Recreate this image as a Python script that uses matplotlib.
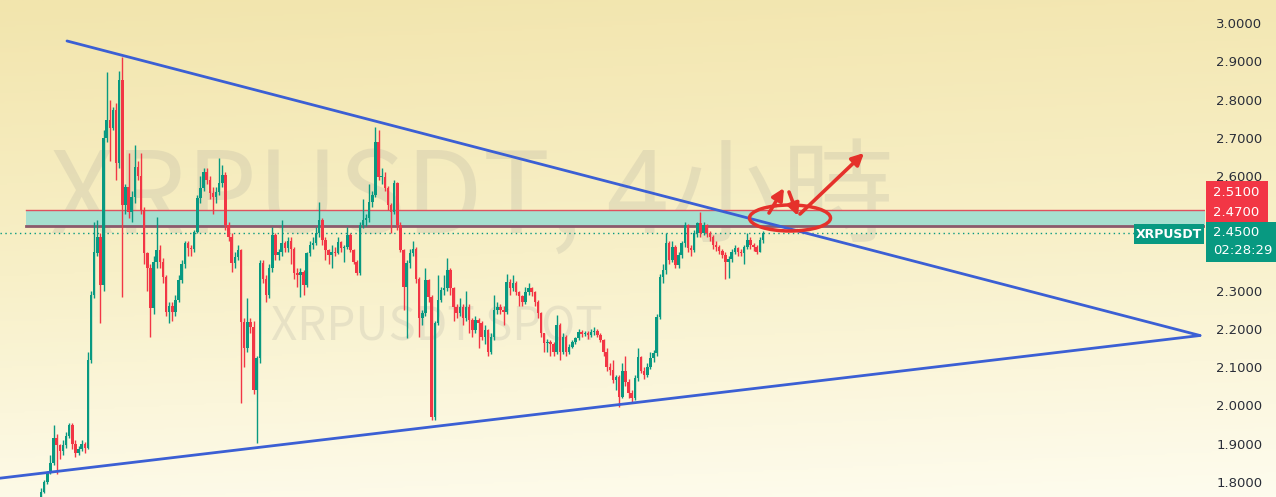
import numpy as np
import matplotlib
matplotlib.use("Agg")
import matplotlib.pyplot as plt
from matplotlib.patches import Ellipse, Rectangle
from matplotlib.colors import LinearSegmentedColormap

# ---------------- data (4h candles) ----------------
first_open = 1.76
closes = [
    1.775, 1.80, 1.825, 1.85, 1.915, 1.897, 1.88, 1.897, 1.92, 1.95,
    1.90, 1.875, 1.885, 1.90, 1.89, 2.12, 2.29, 2.40, 2.44, 2.315,
    2.70, 2.746, 2.725, 2.773, 2.633, 2.851, 2.524, 2.572, 2.507, 2.546,
    2.624, 2.60, 2.511, 2.398, 2.359, 2.254, 2.376, 2.407, 2.376, 2.337,
    2.245,
    2.26, 2.245, 2.276, 2.328, 2.37, 2.424, 2.411, 2.41, 2.454,
    2.542, 2.568, 2.611, 2.59, 2.555, 2.545, 2.559, 2.581, 2.603, 2.472,
    2.441, 2.372, 2.389, 2.407, 2.219, 2.150, 2.219, 2.206, 2.041, 2.123,
    2.372, 2.33, 2.289, 2.359, 2.446, 2.393, 2.402, 2.424, 2.411, 2.43,
    2.41, 2.346,
    2.341, 2.35, 2.315, 2.398, 2.420, 2.425, 2.450, 2.485, 2.433, 2.407,
    2.393, 2.402, 2.400, 2.428, 2.411, 2.415, 2.446, 2.407, 2.376,
    2.346, 2.472, 2.485, 2.490, 2.533, 2.550, 2.690, 2.598, 2.598, 2.568,
    2.524, 2.507, 2.581, 2.472, 2.407, 2.311, 2.372, 2.40, 2.41, 2.33,
    2.228, 2.241, 2.328, 2.284, 1.97, 2.215, 2.276, 2.302, 2.306, 2.354,
    2.306, 2.258, 2.241, 2.258, 2.228, 2.258, 2.224, 2.197, 2.224, 2.215,
    2.180, 2.197, 2.141, 2.180, 2.250, 2.258, 2.250, 2.245, 2.324, 2.306,
    2.320, 2.298, 2.285, 2.271, 2.298, 2.306, 2.298, 2.271, 2.241,
    2.189, 2.163, 2.167, 2.160, 2.141, 2.210, 2.141, 2.180, 2.141, 2.154,
    2.167, 2.176, 2.193, 2.188, 2.190, 2.184, 2.193, 2.195, 2.184, 2.171,
    2.141, 2.101,
    2.093, 2.067, 2.075, 2.023, 2.09, 2.062, 2.032, 2.019, 2.071, 2.128,
    2.090, 2.080, 2.100, 2.123, 2.136, 2.232, 2.337, 2.354, 2.424,
    2.38, 2.415, 2.367, 2.393, 2.424, 2.472, 2.411, 2.407, 2.450, 2.476,
    2.450, 2.472, 2.450, 2.441, 2.420, 2.415, 2.405, 2.393, 2.376, 2.384,
    2.402, 2.411, 2.402, 2.400, 2.415, 2.433, 2.420, 2.415, 2.402, 2.433,
    2.450,
]
highs = [
    1.785, 1.805, 1.83, 1.87, 1.95, 1.925, 1.90, 1.91, 1.93, 1.955,
    1.955, 1.91, 1.895, 1.91, 1.905, 2.14, 2.30, 2.48, 2.485, 2.45,
    2.72, 2.873, 2.80, 2.78, 2.79, 2.875, 2.912, 2.58, 2.66, 2.56,
    2.681, 2.64, 2.66, 2.52, 2.40, 2.37, 2.39, 2.494, 2.42, 2.385,
    2.34,
    2.27, 2.27, 2.29, 2.34, 2.38, 2.43, 2.43, 2.42, 2.46,
    2.55, 2.60, 2.62, 2.62, 2.60, 2.57, 2.57, 2.646, 2.63, 2.61,
    2.48, 2.45, 2.40, 2.42, 2.41, 2.23, 2.28, 2.23, 2.22, 2.13,
    2.38, 2.38, 2.34, 2.37, 2.467, 2.45, 2.41, 2.485, 2.43, 2.44,
    2.44, 2.415,
    2.36, 2.36, 2.355, 2.40, 2.43, 2.44, 2.467, 2.533, 2.49, 2.44,
    2.41, 2.42, 2.415, 2.44, 2.43, 2.42, 2.467, 2.45, 2.41,
    2.38, 2.48, 2.54, 2.50, 2.58, 2.56, 2.729, 2.72, 2.62, 2.61,
    2.575, 2.53, 2.59, 2.585, 2.48, 2.41, 2.38, 2.41, 2.43, 2.415,
    2.335, 2.25, 2.36, 2.33, 2.29, 2.22, 2.34, 2.31, 2.34, 2.385,
    2.36, 2.31, 2.265, 2.28, 2.265, 2.30, 2.265, 2.23, 2.235, 2.23,
    2.22, 2.21, 2.20, 2.19, 2.29, 2.27, 2.265, 2.26, 2.345, 2.33,
    2.34, 2.325, 2.30, 2.29, 2.31, 2.32, 2.31, 2.30, 2.275,
    2.245, 2.19, 2.175, 2.17, 2.165, 2.237, 2.215, 2.19, 2.185, 2.16,
    2.17, 2.18, 2.20, 2.197, 2.195, 2.195, 2.20, 2.205, 2.20, 2.19,
    2.175, 2.15,
    2.11, 2.12, 2.08, 2.08, 2.11, 2.13, 2.07, 2.04, 2.08, 2.15,
    2.13, 2.10, 2.11, 2.14, 2.145, 2.24, 2.345, 2.37, 2.45,
    2.43, 2.43, 2.42, 2.40, 2.43, 2.48, 2.475, 2.42, 2.46, 2.48,
    2.507, 2.48, 2.475, 2.455, 2.445, 2.43, 2.42, 2.41, 2.40, 2.39,
    2.41, 2.42, 2.415, 2.41, 2.42, 2.45, 2.44, 2.425, 2.42, 2.44,
    2.455,
]
lows = [
    1.755, 1.77, 1.795, 1.82, 1.845, 1.82, 1.86, 1.87, 1.89, 1.915,
    1.885, 1.865, 1.87, 1.88, 1.875, 1.885, 2.11, 2.28, 2.39, 2.215,
    2.30, 2.69, 2.64, 2.72, 2.59, 2.62, 2.284, 2.50, 2.49, 2.48,
    2.53, 2.59, 2.50, 2.37, 2.30, 2.18, 2.24, 2.36, 2.36, 2.32,
    2.235,
    2.215, 2.22, 2.235, 2.27, 2.32, 2.36, 2.39, 2.39, 2.40,
    2.45, 2.53, 2.56, 2.58, 2.54, 2.50, 2.53, 2.55, 2.57, 2.46,
    2.43, 2.35, 2.36, 2.38, 2.006, 2.10, 2.14, 2.19, 2.03, 1.901,
    2.11, 2.32, 2.27, 2.28, 2.35, 2.38, 2.38, 2.39, 2.40, 2.40,
    2.37, 2.33,
    2.31, 2.284, 2.29, 2.31, 2.39, 2.41, 2.42, 2.44, 2.42, 2.38,
    2.37, 2.36, 2.39, 2.395, 2.40, 2.375, 2.41, 2.40, 2.37,
    2.34, 2.34, 2.465, 2.47, 2.48, 2.52, 2.545, 2.59, 2.58, 2.56,
    2.51, 2.45, 2.50, 2.46, 2.40, 2.250, 2.176, 2.36, 2.39, 2.32,
    2.18, 2.21, 2.235, 2.27, 1.962, 1.962, 2.21, 2.27, 2.29, 2.30,
    2.29, 2.22, 2.23, 2.235, 2.21, 2.22, 2.19, 2.18, 2.19, 2.15,
    2.17, 2.16, 2.13, 2.135, 2.17, 2.24, 2.24, 2.21, 2.24, 2.29,
    2.30, 2.29, 2.26, 2.26, 2.265, 2.29, 2.285, 2.26, 2.23,
    2.18, 2.14, 2.14, 2.13, 2.13, 2.135, 2.12, 2.135, 2.13, 2.135,
    2.15, 2.16, 2.17, 2.18, 2.182, 2.175, 2.18, 2.185, 2.18, 2.165,
    2.13, 2.09,
    2.08, 2.06, 2.04, 1.997, 2.02, 2.05, 2.02, 2.01, 2.015, 2.065,
    2.085, 2.07, 2.075, 2.095, 2.115, 2.13, 2.225, 2.32, 2.345,
    2.37, 2.375, 2.36, 2.36, 2.385, 2.415, 2.40, 2.39, 2.40, 2.44,
    2.44, 2.445, 2.44, 2.43, 2.41, 2.405, 2.395, 2.385, 2.33, 2.333,
    2.375, 2.395, 2.39, 2.39, 2.37, 2.41, 2.41, 2.405, 2.395, 2.40,
    2.425,
]
opens = [first_open] + closes[:-1]

price_ticks = [3.0, 2.9, 2.8, 2.7, 2.6, 2.3, 2.2, 2.1, 2.0, 1.9, 1.8]
zone_low, zone_high = 2.47, 2.51
last_price = 2.45
countdown = "02:28:29"
symbol = "XRPUSDT"
wedge_upper = (2.953, 2.183)   # resistance line start / end price
wedge_lower = (1.810, 2.183)   # support line start / end price

# ---------------- figure ----------------
W, H = 1276, 497
fig = plt.figure(figsize=(W / 100, H / 100), dpi=100)

# background gradient
bg = fig.add_axes([0, 0, 1, 1], zorder=0)
bg.axis("off")
cmap = LinearSegmentedColormap.from_list("bg", ["#f2e5ad", "#f8f0c8", "#fefcee"])
gy = np.linspace(0, 1, 256)[:, None]
gx = np.linspace(0, 1, 256)[None, :]
grad = np.clip(gy * 0.9 + gx * 0.1, 0, 1)
bg.imshow(grad, cmap=cmap, aspect="auto", extent=[0, 1, 0, 1], origin="upper")
bg.set_xlim(0, 1)
bg.set_ylim(0, 1)

# main price axes
plot_right = 1205
n = len(closes)
x0_px, x1_px = 41, 763
step = (x1_px - x0_px) / (n - 1)


def px_to_x(px):
    return (px - x0_px) / step


def ypx_to_price(py):
    return 3.0 - (py - 23) / 382.5


ax = fig.add_axes([0, 0, plot_right / W, 1], zorder=1)
ax.set_facecolor("none")
ax.set_xlim(px_to_x(0), px_to_x(plot_right))
ax.set_ylim(ypx_to_price(H), ypx_to_price(0))
for s in ax.spines.values():
    s.set_visible(False)
ax.set_xticks([])
ax.yaxis.tick_right()
ax.set_yticks(price_ticks)
ax.set_yticklabels([f"{t:.4f}" for t in price_ticks])
ax.tick_params(axis="y", length=0, pad=8, labelsize=9.5, labelcolor="#2a2e39")

# watermarks
cjk = ["Noto Sans CJK TC", "DejaVu Sans"]
ax.text(px_to_x(472), ypx_to_price(200), f"{symbol}, 4小時", fontsize=81,
        family=cjk, color="#8c8c8c", alpha=0.16, ha="center", va="center", zorder=1)
ax.text(px_to_x(437), ypx_to_price(327), f"{symbol} SPOT", fontsize=33,
        family=cjk, color="#8c8c8c", alpha=0.16, ha="center", va="center", zorder=1)

# support / resistance zone
zx = [px_to_x(26), px_to_x(plot_right)]
ax.fill_between(zx, zone_low, zone_high, color="#a6dfcf", zorder=2, lw=0)
ax.plot(zx, [zone_high, zone_high], color="#e0505e", lw=1.0, zorder=3)
ax.plot(zx, [zone_low, zone_low], color="#8c5a6c", lw=2.0, zorder=3)

# last price dotted line
ax.plot([px_to_x(0), px_to_x(1134)], [last_price, last_price], color="#089981",
        lw=1.0, ls=(0, (1, 2.5)), zorder=3)

# candles
up_c, dn_c = "#089981", "#f23645"
xs = np.arange(n)
o = np.array(opens)
c = np.array(closes)
hi = np.array(highs)
lo = np.array(lows)
cols = np.where(c >= o, up_c, dn_c)
ax.vlines(xs, lo, hi, colors=cols, lw=1.0, zorder=4)
bottoms = np.minimum(o, c)
heights = np.maximum(np.abs(c - o), 0.002)
ax.bar(xs, heights, bottom=bottoms, width=0.8, color=cols, lw=0, zorder=5)

# wedge (triangle) lines
ax.plot([px_to_x(67), px_to_x(1200)], list(wedge_upper), color="#3b5fd4", lw=2.0, zorder=6,
        solid_capstyle="round")
ax.plot([px_to_x(0), px_to_x(1200)], list(wedge_lower), color="#3b5fd4", lw=2.0, zorder=6,
        solid_capstyle="round")

# overlay in pixel coordinates for the drawn annotations and price labels
ov = fig.add_axes([0, 0, 1, 1], zorder=3)
ov.set_xlim(0, W)
ov.set_ylim(H, 0)
ov.axis("off")
ov.set_facecolor("none")

red = "#e5312b"
ov.add_patch(Ellipse((790, 218), 81, 26, fill=False, ec=red, lw=2.5))
arrow_kw = dict(arrowstyle="-|>,head_length=0.7,head_width=0.35", color=red, lw=2.6,
                shrinkA=0, shrinkB=0)
ov.annotate("", xy=(784, 188), xytext=(769, 213), arrowprops=arrow_kw)
ov.annotate("", xy=(798, 216), xytext=(789, 192), arrowprops=arrow_kw)
ov.annotate("", xy=(864, 153), xytext=(800, 214), arrowprops=arrow_kw)

# price labels on the scale
ov.add_patch(Rectangle((1206, 181), 62, 41, color="#f23645", lw=0))
ov.text(1213, 192, "2.5100", color="white", fontsize=9.5, va="center", ha="left")
ov.text(1213, 212, "2.4700", color="white", fontsize=9.5, va="center", ha="left")
ov.add_patch(Rectangle((1206, 222), 70, 40, color="#089981", lw=0))
ov.text(1213, 232, f"{last_price:.4f}", color="white", fontsize=9.5, va="center", ha="left")
ov.text(1213, 251, countdown, color="white", fontsize=9.5, va="center", ha="left")
ov.add_patch(Rectangle((1134, 224), 70, 20, color="#089981", lw=0))
ov.text(1169, 234, symbol, color="white", fontsize=9, fontweight="bold", va="center", ha="center")

fig.savefig("out.png", dpi=100)
